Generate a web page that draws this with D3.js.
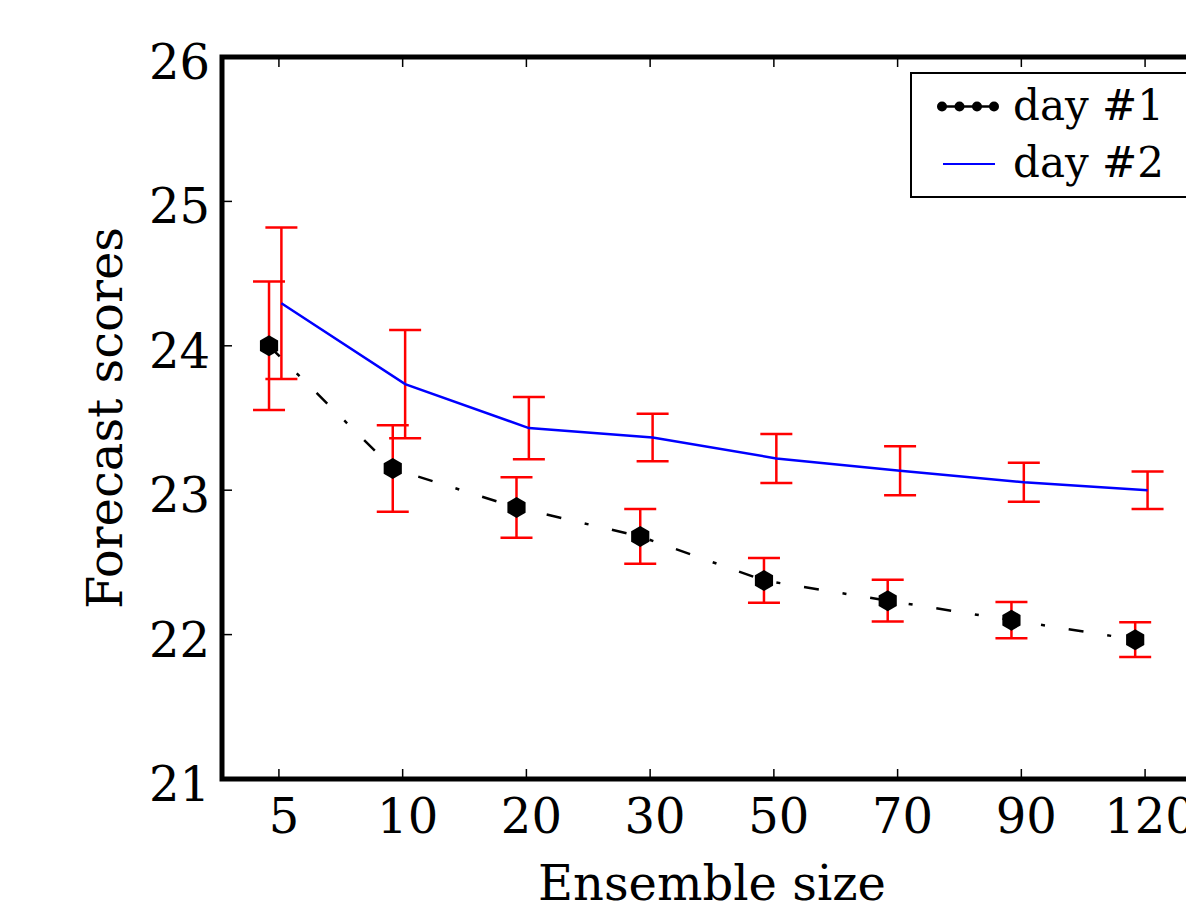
<!DOCTYPE html>
<html>
<head>
<meta charset="utf-8">
<script src="https://cdn.jsdelivr.net/npm/d3@7"></script>
<style>
    body { margin: 0; background: #ffffff; }
    svg { display: block; font-family: "DejaVu Serif", serif; }
</style>
</head>
<body>
<svg id="vis" width="1186" height="909"></svg>
<script>
// ensemble sizes (categorical x positions)
let sizes = ["5", "10", "20", "30", "50", "70", "90", "120"];

// day #1 : mean score and error bar half-length
let day1Mean = [24.00, 23.15, 22.88, 22.68, 22.375, 22.235, 22.10, 21.965];
let day1Err  = [0.445, 0.30, 0.21, 0.19, 0.155, 0.145, 0.125, 0.12];

// day #2
let day2Mean = [24.295, 23.735, 23.43, 23.365, 23.22, 23.135, 23.055, 23.00];
let day2Err  = [0.525, 0.375, 0.215, 0.165, 0.17, 0.17, 0.135, 0.13];

let yTicks = [21, 22, 23, 24, 25, 26];
let seriesNames = ["day #1", "day #2"];

let svg = d3.select("svg#vis");

// plot box
let box = { left: 222, right: 1202, top: 57, bottom: 779 };

let x = d3.scaleLinear()
    .domain([-0.46, sizes.length - 1 + 0.46])
    .range([box.left, box.right]);

let y = d3.scaleLinear()
    .domain([21, 26])
    .range([box.bottom, box.top]);

// the two series sit a little apart from the tick
let offset1 = -0.08, offset2 = 0.02;

let plot = svg.append("g").attr("id", "plot");

// error bars
let drawErrors = function(means, errs, off) {
    let g = plot.append("g").attr("stroke", "#ff0000").attr("stroke-width", 2.5).attr("fill", "none");
    means.forEach(function(m, i) {
        let cx = x(i + off);
        g.append("line").attr("x1", cx).attr("x2", cx).attr("y1", y(m - errs[i])).attr("y2", y(m + errs[i]));
        g.append("line").attr("x1", cx - 16).attr("x2", cx + 16).attr("y1", y(m + errs[i])).attr("y2", y(m + errs[i]));
        g.append("line").attr("x1", cx - 16).attr("x2", cx + 16).attr("y1", y(m - errs[i])).attr("y2", y(m - errs[i]));
    });
};

drawErrors(day2Mean, day2Err, offset2);
drawErrors(day1Mean, day1Err, offset1);

// day #2 line
let line2 = d3.line()
    .x(function(d, i) { return x(i + offset2); })
    .y(function(d) { return y(d); });

plot.append("path")
    .datum(day2Mean)
    .attr("d", line2)
    .attr("fill", "none")
    .attr("stroke", "#0000ff")
    .attr("stroke-width", 2.5);

// day #1 dash-dot line
let line1 = d3.line()
    .x(function(d, i) { return x(i + offset1); })
    .y(function(d) { return y(d); });

plot.append("path")
    .datum(day1Mean)
    .attr("d", line1)
    .attr("fill", "none")
    .attr("stroke", "#000000")
    .attr("stroke-width", 2.5)
    .attr("stroke-dasharray", "15,24,4,24");

// hexagon markers (pointy top)
let hexagon = function(r) {
    let pts = d3.range(6).map(function(k) {
        let a = (-90 + 60 * k) * Math.PI / 180;
        return [r * Math.cos(a), r * Math.sin(a)];
    });
    return "M" + pts.join("L") + "Z";
};

plot.selectAll("path.marker")
    .data(day1Mean)
    .enter().append("path")
    .attr("class", "marker")
    .attr("d", hexagon(10.5))
    .attr("transform", function(d, i) { return "translate(" + x(i + offset1) + "," + y(d) + ")"; })
    .attr("fill", "#000000");

// axes frame
let frame = svg.append("g").attr("stroke", "#000000").attr("fill", "none");
frame.append("rect")
    .attr("x", box.left).attr("y", box.top)
    .attr("width", box.right - box.left).attr("height", box.bottom - box.top)
    .attr("stroke-width", 5);

// inward ticks
sizes.forEach(function(s, i) {
    frame.append("line").attr("x1", x(i)).attr("x2", x(i)).attr("y1", box.bottom).attr("y2", box.bottom - 10).attr("stroke-width", 1.5);
    frame.append("line").attr("x1", x(i)).attr("x2", x(i)).attr("y1", box.top).attr("y2", box.top + 10).attr("stroke-width", 1.5);
});
yTicks.forEach(function(t) {
    frame.append("line").attr("x1", box.left).attr("x2", box.left + 10).attr("y1", y(t)).attr("y2", y(t)).attr("stroke-width", 1.5);
});

// tick labels
svg.append("g").selectAll("text")
    .data(sizes)
    .enter().append("text")
    .attr("x", function(d, i) { return x(i) + 5; })
    .attr("y", 833)
    .attr("text-anchor", "middle")
    .style("font-size", "48px")
    .text(function(d) { return d; });

svg.append("g").selectAll("text")
    .data(yTicks)
    .enter().append("text")
    .attr("x", 210)
    .attr("y", function(d) { return y(d) + 22; })
    .attr("text-anchor", "end")
    .style("font-size", "48px")
    .text(function(d) { return d; });

// axis titles
svg.append("text")
    .attr("x", (box.left + box.right) / 2)
    .attr("y", 900)
    .attr("text-anchor", "middle")
    .style("font-size", "48px")
    .text("Ensemble size");

svg.append("text")
    .attr("transform", "translate(122," + ((box.top + box.bottom) / 2) + ") rotate(-90)")
    .attr("text-anchor", "middle")
    .style("font-size", "48px")
    .text("Forecast scores");

// legend
let legend = svg.append("g").attr("id", "legend");
legend.append("rect")
    .attr("x", 911).attr("y", 73)
    .attr("width", 290).attr("height", 124)
    .attr("fill", "#ffffff")
    .attr("stroke", "#000000")
    .attr("stroke-width", 2);

legend.append("line")
    .attr("x1", 942).attr("x2", 994).attr("y1", 106.5).attr("y2", 106.5)
    .attr("stroke", "#000000").attr("stroke-width", 2.5);
legend.selectAll("circle")
    .data([942, 959.5, 977, 994])
    .enter().append("circle")
    .attr("cx", function(d) { return d; })
    .attr("cy", 106.5)
    .attr("r", 5)
    .attr("fill", "#000000");

legend.append("line")
    .attr("x1", 943).attr("x2", 995).attr("y1", 164).attr("y2", 164)
    .attr("stroke", "#0000ff").attr("stroke-width", 2);

legend.selectAll("text")
    .data(seriesNames)
    .enter().append("text")
    .attr("x", 1013)
    .attr("y", function(d, i) { return 120 + i * 57; })
    .style("font-size", "42px")
    .text(function(d) { return d; });
</script>
</body>
</html>
